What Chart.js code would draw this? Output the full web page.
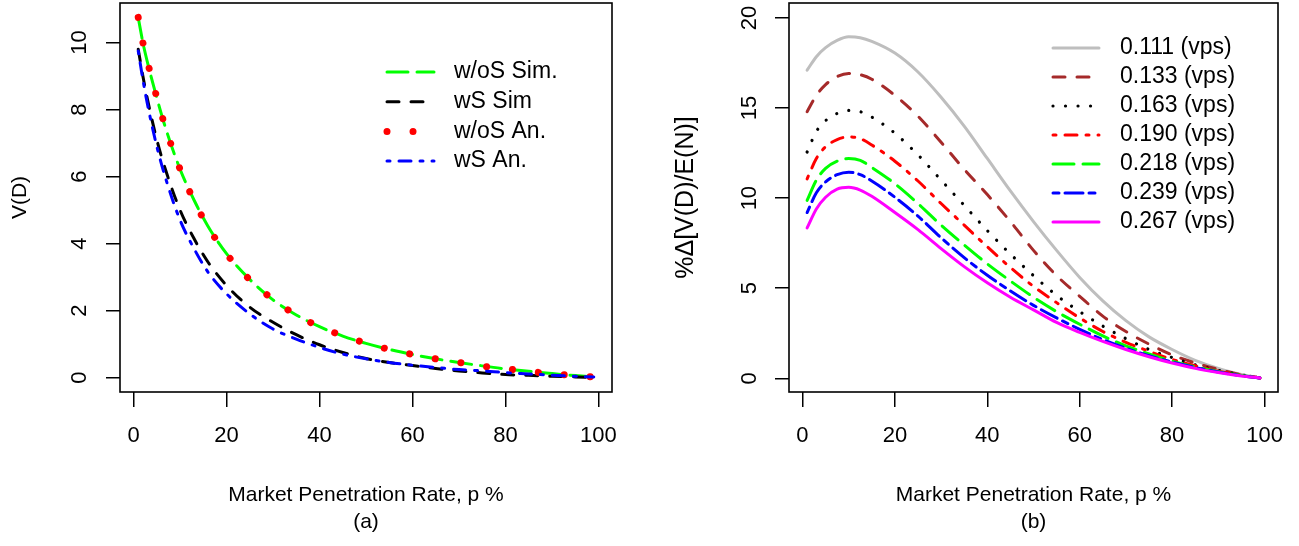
<!DOCTYPE html>
<html><head><meta charset="utf-8">
<script src="https://cdn.jsdelivr.net/npm/chart.js@4.4.1/dist/chart.umd.min.js"></script>
<style>
html,body{margin:0;padding:0;background:#fff;}
#wrap{position:relative;width:1299px;height:546px;overflow:hidden;background:#fff;}
#wrap canvas{position:absolute;top:0;}
</style></head><body>
<div id="wrap">
<canvas id="cA" width="650" height="546" style="left:0;width:650px;height:546px"></canvas>
<canvas id="cB" width="649" height="546" style="left:650px;width:649px;height:546px"></canvas>
</div>
<script>
// ---------- data ----------
const xTicks = [0, 20, 40, 60, 80, 100];
const yTicksA = [0, 2, 4, 6, 8, 10];
const yTicksB = [0, 5, 10, 15, 20];

// panel (a)
const pA = [1,2,3,5,7,10,13,16,20,25,30,35,40,45,50,55,60,65,70,75,80,85,90,95,99];
const wosSim = [10.75,10.0,9.4,8.35,7.4,6.22,5.3,4.52,3.7,2.93,2.32,1.87,1.52,1.24,1.02,0.84,0.69,0.56,0.45,0.35,0.26,0.19,0.12,0.06,0.02];
const wsSim  = [9.8,9.0,8.3,7.1,6.15,5.0,4.15,3.45,2.75,2.1,1.65,1.28,0.98,0.75,0.57,0.45,0.36,0.27,0.2,0.14,0.09,0.07,0.04,0.02,0.0];
const wosAn  = [10.75,10.0,9.42,8.36,7.4,6.22,5.28,4.5,3.69,2.92,2.33,1.87,1.52,1.25,1.03,0.84,0.69,0.56,0.45,0.34,0.26,0.19,0.11,0.06,0.02];
const wsAn   = [9.75,8.9,8.15,6.9,5.9,4.7,3.85,3.15,2.5,1.9,1.45,1.15,0.9,0.7,0.56,0.45,0.37,0.3,0.24,0.2,0.15,0.11,0.07,0.04,0.02];
const labelsA = ['w/oS Sim.', 'wS Sim', 'w/oS An.', 'wS An.'];

// panel (b)
const pB = [1,3,5,7.5,10,12.5,15,20,25,30,35,40,45,50,55,60,65,70,75,80,85,90,95,99];
const v111 = [17.1,17.85,18.35,18.75,18.95,18.9,18.7,18.05,17.0,15.6,14.0,12.2,10.4,8.7,7.1,5.6,4.3,3.2,2.3,1.6,1.0,0.55,0.22,0.02];
const v133 = [14.8,15.7,16.3,16.75,16.92,16.85,16.6,15.7,14.55,13.1,11.6,10.2,8.7,7.1,5.7,4.55,3.45,2.6,1.9,1.3,0.85,0.5,0.2,0.02];
const v163 = [12.56,13.7,14.3,14.7,14.87,14.8,14.5,13.6,12.4,11.0,9.6,8.2,6.9,5.7,4.6,3.7,2.9,2.2,1.6,1.15,0.75,0.44,0.19,0.02];
const v190 = [11.07,12.2,12.85,13.25,13.4,13.3,12.95,12.05,10.95,9.7,8.5,7.3,6.15,5.1,4.2,3.35,2.6,2.0,1.5,1.05,0.7,0.4,0.17,0.02];
const v218 = [9.87,11.0,11.65,12.05,12.2,12.1,11.7,10.8,9.7,8.5,7.4,6.35,5.4,4.5,3.7,3.0,2.35,1.8,1.35,0.95,0.63,0.37,0.15,0.02];
const v239 = [9.2,10.3,10.9,11.3,11.44,11.3,10.95,10.05,9.0,7.8,6.7,5.72,4.85,4.05,3.35,2.72,2.15,1.67,1.25,0.9,0.6,0.35,0.14,0.02];
const v267 = [8.35,9.4,10.05,10.5,10.6,10.45,10.1,9.2,8.25,7.2,6.2,5.3,4.5,3.8,3.1,2.55,2.05,1.6,1.2,0.85,0.55,0.32,0.13,0.02];
const labelsB = ['0.111 (vps)','0.133 (vps)','0.163 (vps)','0.190 (vps)','0.218 (vps)','0.239 (vps)','0.267 (vps)'];

// ---------- helpers ----------
const FONT = '"Liberation Sans", Arial, Helvetica, sans-serif';
Chart.defaults.font.family = FONT;
Chart.defaults.color = '#000';

const pts = (xs, ys) => xs.map((x, i) => ({x: x, y: ys[i]}));

function ds(label, xs, ys, color, width, dash, order) {
  return {
    label: label, data: pts(xs, ys), borderColor: color, backgroundColor: color,
    borderWidth: width, borderDash: dash, borderCapStyle: 'round', borderJoinStyle: 'round',
    pointRadius: 0, pointHoverRadius: 0, fill: false, showLine: true,
    cubicInterpolationMode: 'monotone', order: order
  };
}

const boxPlugin = {
  id: 'rbox',
  afterDatasetsDraw(chart) {
    const {ctx, chartArea: a} = chart;
    ctx.save();
    ctx.strokeStyle = '#000';
    ctx.lineWidth = 1.6;
    ctx.strokeRect(a.left, a.top, a.right - a.left, a.bottom - a.top);
    ctx.restore();
  }
};

const rLegend = {
  id: 'rlegend',
  afterDraw(chart, args, o) {
    const ctx = chart.ctx;
    chart.data.datasets.forEach((d, i) => {
      const y = o.y0 + i * o.dy;
      ctx.save();
      ctx.strokeStyle = d.borderColor;
      ctx.lineWidth = d.borderWidth;
      ctx.lineCap = 'round';
      ctx.setLineDash(d.borderDash || []);
      ctx.beginPath();
      ctx.moveTo(o.x0, y);
      ctx.lineTo(o.x1, y);
      ctx.stroke();
      ctx.restore();
      ctx.save();
      ctx.fillStyle = '#000';
      ctx.font = o.size + 'px ' + FONT;
      ctx.textBaseline = 'middle';
      ctx.textAlign = 'left';
      ctx.fillText(d.label, o.tx, y);
      ctx.restore();
    });
  }
};

function makeOptions(cfg) {
  return {
    responsive: false, animation: false, devicePixelRatio: 1,
    layout: {padding: {top: 3, right: cfg.padRight, bottom: 11.4, left: 0}},
    plugins: {
      legend: {display: false},
      tooltip: {enabled: false},
      title: {display: true, text: cfg.panel, position: 'bottom', fullSize: false,
              font: {size: 21, weight: 'normal'}, color: '#000', padding: {top: 0.4, bottom: 0}},
      rlegend: cfg.legend
    },
    scales: {
      x: {
        type: 'linear', min: -2.92, max: 102.92,
        afterBuildTicks: s => { s.ticks = xTicks.map(v => ({value: v})); },
        afterFit: s => { s.height = 117; s.paddingLeft = 0; s.paddingRight = 0; },
        grid: {drawOnChartArea: false, drawTicks: true, tickLength: 15, color: '#000', lineWidth: 1.5},
        border: {display: false},
        ticks: {font: {size: 22}, color: '#000', padding: 15.8, maxRotation: 0, minRotation: 0, autoSkip: false},
        title: {display: true, text: 'Market Penetration Rate, p %', font: {size: 21}, color: '#000',
                padding: {top: 0, bottom: 1.6}}
      },
      y: {
        type: 'linear', min: cfg.ymin, max: cfg.ymax,
        afterBuildTicks: s => { s.ticks = cfg.yTicks.map(v => ({value: v})); },
        afterFit: s => { s.width = cfg.yWidth; s.paddingTop = 0; s.paddingBottom = 0; },
        grid: {drawOnChartArea: false, drawTicks: true, tickLength: 14, color: '#000', lineWidth: 1.5},
        border: {display: false},
        ticks: {font: {size: 22}, color: '#000', padding: cfg.yTickPad, minRotation: 90, maxRotation: 90,
                crossAlign: 'center', autoSkip: false},
        title: {display: true, text: cfg.yTitle, font: {size: cfg.yTitleSize}, color: '#000',
                padding: {top: cfg.yTitlePad, bottom: 0}}
      }
    }
  };
}

// ---------- panel (a) ----------
new Chart(document.getElementById('cA'), {
  type: 'scatter',
  data: {datasets: [
    ds(labelsA[0], pA, wosSim, '#00FF00', 3, [21, 9], 4),
    ds(labelsA[1], pA, wsSim, '#000000', 3, [12, 12], 3),
    ds(labelsA[2], pA, wosAn, '#FF0000', 7, [0.01, 26], 2),
    ds(labelsA[3], pA, wsAn, '#0000FF', 3, [3, 9, 12, 9], 1)
  ]},
  options: makeOptions({
    panel: '(a)', padRight: 38, ymin: -0.43, ymax: 11.18, yTicks: yTicksA, yWidth: 120,
    yTickPad: 13.7, yTitle: 'V(D)', yTitleSize: 21, yTitlePad: 7.4,
    legend: {x0: 387, x1: 434, tx: 454, y0: 72, dy: 29.7, size: 23}
  }),
  plugins: [boxPlugin, rLegend]
});

// ---------- panel (b) ----------
new Chart(document.getElementById('cB'), {
  type: 'scatter',
  data: {datasets: [
    ds(labelsB[0], pB, v111, '#BEBEBE', 3, [], 7),
    ds(labelsB[1], pB, v133, '#A52A2A', 3, [12, 12], 6),
    ds(labelsB[2], pB, v163, '#000000', 3.2, [0.01, 12.5], 5),
    ds(labelsB[3], pB, v190, '#FF0000', 3, [3, 9, 12, 9], 4),
    ds(labelsB[4], pB, v218, '#00FF00', 3, [21, 9], 3),
    ds(labelsB[5], pB, v239, '#0000FF', 3, [6, 6, 18, 6], 2),
    ds(labelsB[6], pB, v267, '#FF00FF', 3, [], 1)
  ]},
  options: makeOptions({
    panel: '(b)', padRight: 21, ymin: -0.76, ymax: 20.83, yTicks: yTicksB, yWidth: 139,
    yTickPad: 12.7, yTitle: '%\u0394[V(D)/E(N)]', yTitleSize: 25, yTitlePad: 21,
    legend: {x0: 403, x1: 449, tx: 470, y0: 48, dy: 29, size: 23}
  }),
  plugins: [boxPlugin, rLegend]
});
</script>
</body></html>
